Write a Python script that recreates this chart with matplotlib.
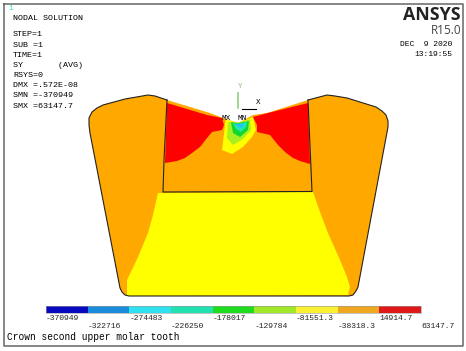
import matplotlib
matplotlib.use('Agg')
from matplotlib import pyplot as plt

# contour band limits and colours
low_labels = ['-370949', '-274483', '-178017', '-81551.3', '14914.7']
high_labels = ['-322716', '-226250', '-129784', '-38318.3', '63147.7']
band_colors = ['#0808c0', '#1a8cdc', '#2fe0ee', '#22e0b0', '#1fdc1f',
               '#a0e828', '#f8f030', '#f0a820', '#e01818']

info_lines = ['STEP=1', 'SUB =1', 'TIME=1', 'SY       (AVG)', 'RSYS=0',
              'DMX =.572E-08', 'SMN =-370949', 'SMX =63147.7']

# tooth outline
outline_x = [167, 155, 148, 125, 103, 97, 92, 89, 89, 90, 120, 122, 125, 129, 349, 353, 356, 358, 388, 388,
             386, 382, 376, 347, 335, 327, 308, 267, 253, 238, 223, 210]
outline_y = [100, 96, 95, 99, 105, 108, 112, 118, 125, 133, 288, 292, 295, 296, 296, 295, 291, 287, 127, 121,
             115, 111, 107, 98, 96, 95, 100, 113, 115, 123, 118, 113]
edge_end = 27
block_x = [167, 164, 163, 312, 308]
block_y = [100, 160, 192, 191.5, 100]

lower_x = [158, 153, 148, 138, 127, 127, 348, 350, 347, 340, 328, 320, 313]
lower_y = [193, 215, 233, 257, 280, 296, 295, 287, 277, 260, 233, 212, 192]

red_left_x = [167, 207, 222, 224, 222, 212, 207, 200, 192, 185, 177, 165]
red_left_y = [103, 115, 118, 125, 130, 132, 138, 147, 153, 158, 161, 163]
red_right_x = [308, 268, 253, 257, 257, 270, 278, 285, 293, 300, 310]
red_right_y = [103, 113, 117, 125, 132, 135, 145, 152, 158, 161, 164]

spot_x = [225, 224, 222, 227, 232, 243, 252, 256, 253, 238, 226]
spot_y = [124, 134, 150, 152, 154, 147, 137, 130, 117, 123, 119]
lime_x = [228, 227, 233, 243, 251, 250, 238]
lime_y = [122, 138, 145, 139, 130, 119, 123]
green_x = [231, 233, 240, 248, 249, 238]
green_y = [122, 133, 137, 130, 121, 123]
teal_x = [233, 236, 241, 246, 247, 238]
teal_y = [123, 129, 132, 127, 122, 124]
cyan_x = [235, 238, 242, 245, 238]
cyan_y = [124, 127, 128, 123, 124]

ORANGE = '#ffa800'
YELLOW = '#ffff00'
RED = '#ff0000'

fig = plt.figure(figsize=(4.66, 3.51), dpi=100)
ax = fig.add_axes([0, 0, 1, 1])
ax.set_xlim(0, 466)
ax.set_ylim(351, 0)
ax.axis('off')

# frame
ax.plot([3.5, 463, 463, 3.5, 3.5], [3.5, 3.5, 346, 346, 3.5], color='#666666', lw=1.1)

# tooth
ax.fill(outline_x, outline_y, color=ORANGE, lw=0, zorder=2)
ax.fill(lower_x, lower_y, color=YELLOW, lw=0, zorder=3)
ax.fill(red_left_x, red_left_y, color=RED, lw=0, zorder=3)
ax.fill(red_right_x, red_right_y, color=RED, lw=0, zorder=3)
ax.fill(spot_x, spot_y, color=YELLOW, lw=0, zorder=4)
ax.fill(lime_x, lime_y, color='#a8f020', lw=0, zorder=5)
ax.fill(green_x, green_y, color='#10d830', lw=0, zorder=6)
ax.fill(teal_x, teal_y, color='#20e8b0', lw=0, zorder=7)
ax.fill(cyan_x, cyan_y, color='#20c8f0', lw=0, zorder=8)

# black edges, the top of the V has none
ax.plot(outline_x[:edge_end], outline_y[:edge_end], color='#222222', lw=0.8, zorder=9)
ax.plot(block_x, block_y, color='#222222', lw=0.8, zorder=9)

# triad
ax.plot([238, 238], [93, 108], color='#90d080', lw=1.2, zorder=10)
ax.plot([242, 256], [109, 109], color='black', lw=0.8, zorder=10)
mono = 'Liberation Mono'
ax.text(240, 86, 'Y', family=mono, fontsize=5.5, color='#90c080', ha='center', va='center', zorder=10)
ax.text(258, 103, 'X', family=mono, fontsize=5.5, color='black', ha='center', va='center', zorder=10)
ax.text(226, 119, 'MX', family=mono, fontsize=5.5, color='black', ha='center', va='center', zorder=10)
ax.text(242, 119, 'MN', family=mono, fontsize=5.5, color='black', ha='center', va='center', zorder=10)

# colour bar
seg = 375 / len(band_colors)
for i, c in enumerate(band_colors):
    ax.fill_between([46 + i * seg, 46 + (i + 1) * seg], 306, 313, color=c, lw=0)
ax.plot([46, 421, 421, 46, 46], [306, 306, 313, 313, 306], color='#999999', lw=0.6, alpha=0.7)
for i, t in enumerate(low_labels):
    ax.text(46 + 2 * i * seg, 318.5, t, family=mono, fontsize=5.8, color='#222222', va='center')
for i, t in enumerate(high_labels):
    ax.text(46 + (2 * i + 1) * seg, 327, t, family=mono, fontsize=5.8, color='#222222', va='center')
ax.text(7, 337, 'Crown second upper molar tooth', family=mono, fontsize=6.85, color='black', va='center')

# header text
ax.text(8, 9, '1', family=mono, fontsize=5.8, color='#40d8d0', va='center')
ax.text(13, 19, 'NODAL SOLUTION', family=mono, fontsize=6, color='black', va='center')
for i, t in enumerate(info_lines):
    ax.text(13, 35 + i * 10.15, t, family=mono, fontsize=6, color='black', va='center')

ax.text(461, 15, 'ANSYS', family='Open Sans', fontweight='bold', fontsize=12.8, color='#222222', ha='right', va='center')
ax.text(461, 30, 'R15.0', family='Open Sans', fontsize=8.5, color='#444444', ha='right', va='center')
ax.text(452, 45, 'DEC  9 2020', family=mono, fontsize=5.8, color='black', ha='right', va='center')
ax.text(452, 55, '13:19:55', family=mono, fontsize=5.8, color='black', ha='right', va='center')

fig.savefig('out.png', dpi=100)
